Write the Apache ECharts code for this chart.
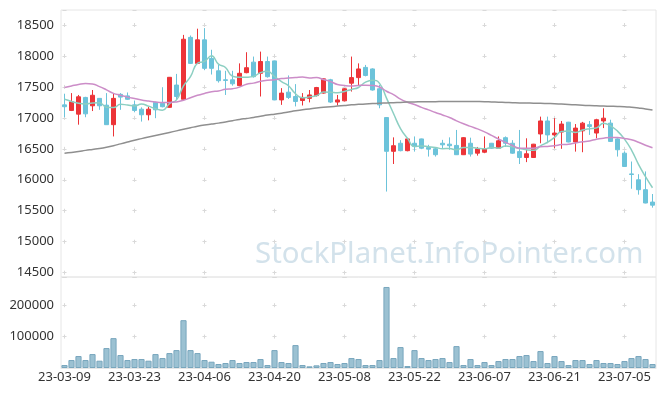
<!DOCTYPE html>
<html><head><meta charset="utf-8">
<script src="https://cdn.jsdelivr.net/npm/echarts@6/dist/echarts.min.js"></script>
<style>html,body{margin:0;padding:0;background:#fff}#c{width:665px;height:396px}</style>
</head><body><div id="c"></div>
<script>
const dates = ['23-03-09','23-03-10','23-03-13','23-03-14','23-03-15','23-03-16','23-03-17','23-03-20','23-03-21','23-03-22',
'23-03-23','23-03-24','23-03-27','23-03-28','23-03-29','23-03-30','23-03-31','23-04-03','23-04-04','23-04-05',
'23-04-06','23-04-07','23-04-10','23-04-11','23-04-12','23-04-13','23-04-14','23-04-17','23-04-18','23-04-19',
'23-04-20','23-04-21','23-04-24','23-04-25','23-04-26','23-04-27','23-04-28','23-05-02','23-05-03','23-05-04',
'23-05-08','23-05-09','23-05-10','23-05-11','23-05-12','23-05-15','23-05-16','23-05-17','23-05-18','23-05-19',
'23-05-22','23-05-23','23-05-24','23-05-25','23-05-26','23-05-30','23-05-31','23-06-01','23-06-02','23-06-05',
'23-06-07','23-06-08','23-06-09','23-06-12','23-06-13','23-06-14','23-06-15','23-06-16','23-06-19','23-06-20',
'23-06-21','23-06-22','23-06-23','23-06-26','23-06-27','23-06-28','23-06-29','23-06-30','23-07-03','23-07-04',
'23-07-05','23-07-06','23-07-07','23-07-10','23-07-11'];
const openP = [17210,17120,17060,17330,17195,17315,17205,16890,17380,17355,
17210,17140,17050,17250,17235,17170,17530,17300,18300,17880,
18260,17960,17760,17615,17615,17520,17730,17900,17720,17910,
17920,17290,17415,17345,17280,17315,17360,17400,17615,17255,
17275,17560,17650,17815,17790,17470,17005,16460,16590,16470,
16590,16660,16520,16500,16590,16575,16555,16405,16590,16430,
16445,16590,16510,16680,16590,16455,16360,16360,16740,16950,
16725,16770,16930,16610,16790,16890,16755,16950,16915,16660,
16430,16095,16000,15840,15640];
const closeP = [17180,17260,17340,17065,17365,17195,16890,17315,17335,17300,
17120,17050,17140,17130,17180,17655,17345,18270,17880,18260,
17800,17800,17600,17605,17550,17720,17810,17665,17910,17665,
17290,17400,17330,17265,17330,17370,17490,17630,17255,17290,
17470,17650,17790,17685,17450,17210,16460,16550,16470,16660,
16540,16510,16495,16405,16565,16550,16405,16680,16415,16500,
16500,16510,16630,16590,16430,16360,16420,16575,16950,16725,
16755,16900,16610,16835,16915,16860,16970,16995,16620,16485,
16215,16085,15840,15625,15590];
const lowP = [17010,17110,16890,17010,17110,17130,16890,16700,17130,17290,
17090,16940,16960,16995,17170,17160,17300,17290,17870,17880,
17770,17700,17570,17370,17520,17510,17720,17650,17345,17650,
17285,17210,17305,17185,17200,17250,17345,17390,17240,17200,
17265,17425,17530,17670,17440,17155,15810,16255,16460,16460,
16455,16495,16375,16375,16510,16485,16400,16400,16375,16390,
16430,16500,16500,16530,16420,16255,16285,16355,16590,16590,
16510,16500,16605,16455,16445,16725,16670,16835,16610,16375,
16210,15855,15760,15620,15550];
const highP = [17390,17400,17370,17340,17450,17320,17400,17390,17400,17410,
17280,17170,17180,17260,17495,17660,17710,18340,18330,18440,
18450,18100,17860,17760,17760,17880,18060,17990,18070,17990,
17925,17480,17685,17545,17400,17450,17500,17640,17630,17370,
17480,17990,17880,17855,17800,17530,17010,16685,16640,16670,
16700,16665,16565,16520,16645,16685,16805,16690,16680,16530,
16700,16595,16700,16700,16640,16805,16670,16580,17020,17020,
16995,16950,16935,16900,16935,16950,16985,17155,16970,16670,
16460,16295,16090,16135,15770];
const volumes = [9500,25400,38100,25400,44400,23300,63500,95200,41300,25400,
28600,28600,23300,44400,31700,47600,57100,152400,57100,47600,
25400,20100,12700,15900,25400,15900,19000,19000,28600,9500,
57100,19000,15900,73000,9500,5300,8500,15900,19000,12700,
15900,31700,28600,9500,9500,25400,258200,31700,66700,6300,
57100,31700,25400,28600,31700,19000,69800,9500,28600,9500,
19000,9500,22200,28600,28600,38100,41300,22200,54000,15900,
38100,22200,9500,25400,25400,12700,25400,15900,15900,12700,
22200,31700,38100,28600,12700];
const ma5 = [17300,17265,17235,17225,17242,17245,17171,17166,17220,17207,
17192,17224,17189,17148,17124,17231,17290,17516,17666,17882,
17911,18002,17868,17813,17671,17655,17657,17670,17731,17754,
17668,17586,17519,17390,17323,17339,17357,17417,17415,17407,
17427,17459,17491,17577,17609,17557,17319,17071,16828,16670,
16536,16546,16535,16522,16503,16505,16484,16521,16523,16510,
16500,16521,16511,16546,16532,16504,16486,16475,16547,16606,
16685,16781,16788,16765,16803,16824,16838,16915,16872,16786,
16657,16480,16249,16050,15871];
const ma20 = [17489,17515,17540,17555,17548,17505,17452,17395,17365,17335,
17312,17290,17272,17255,17247,17247,17258,17285,17325,17364,
17395,17422,17435,17462,17471,17497,17543,17561,17590,17608,
17616,17634,17643,17650,17658,17643,17651,17619,17587,17539,
17522,17515,17524,17528,17523,17498,17430,17375,17303,17252,
17215,17170,17129,17086,17047,17006,16952,16904,16862,16823,
16774,16717,16659,16605,16554,16511,16509,16510,16534,16538,
16548,16568,16574,16595,16613,16628,16656,16672,16682,16682,
16667,16646,16607,16558,16516];
const ma60 = [16430,16440,16455,16475,16490,16505,16525,16550,16580,16610,
16640,16665,16690,16715,16740,16765,16790,16815,16840,16865,
16885,16900,16915,16935,16955,16975,16990,17005,17025,17045,
17060,17075,17095,17115,17130,17145,17160,17170,17180,17190,
17200,17210,17218,17225,17230,17237,17240,17245,17250,17255,
17258,17260,17261,17262,17263,17264,17265,17265,17265,17264,
17262,17258,17254,17250,17246,17242,17240,17238,17236,17232,
17228,17222,17216,17210,17204,17198,17194,17191,17188,17185,
17180,17170,17158,17145,17128];
const watermark = 'StockPlanet.InfoPointer.com';

const candles = dates.map((d, i) => [openP[i], closeP[i], lowP[i], highP[i]]);
const UP = '#ec3438', DOWN = '#6cc3da';
const gridColor = '#e6e6e6', crossColor = '#d9d9d9';
const font = 'Noto Sans';
const plain = v => String(v);

const chart = echarts.init(document.getElementById('c'), null, {renderer: 'canvas'});
chart.setOption({
  animation: false,
  backgroundColor: '#fff',
  graphic: [{
    type: 'text', left: 255, top: 240, z: -10, silent: true,
    style: {text: watermark, font: '29.4px "Noto Sans"', fill: '#d3e2eb'}
  }],
  grid: [
    {left: 61, right: 9, top: 10, height: 267, show: true, borderColor: gridColor, borderWidth: 1},
    {left: 61, right: 9, top: 277, height: 91, show: true, borderColor: gridColor, borderWidth: 1}
  ],
  xAxis: [
    {type: 'category', gridIndex: 0, data: dates, boundaryGap: true,
     axisLine: {show: false}, axisTick: {show: false}, axisLabel: {show: false},
     splitLine: {show: true, interval: 9, alignWithLabel: true,
       lineStyle: {color: crossColor, width: 1, type: [4, 26.96], dashOffset: 17.96}}},
    {type: 'category', gridIndex: 1, data: dates, boundaryGap: true,
     axisLine: {show: true, lineStyle: {color: gridColor}}, axisTick: {show: false},
     axisLabel: {show: true, interval: 9, color: '#333', fontSize: 13, fontFamily: font, margin: 3},
     splitLine: {show: true, interval: 9, alignWithLabel: true,
       lineStyle: {color: crossColor, width: 1, type: [4, 27.38], dashOffset: 5.18}}}
  ],
  yAxis: [
    {type: 'value', gridIndex: 0, min: 14430, max: 18742, splitNumber: 8, scale: true,
     axisLine: {show: false}, axisTick: {show: false},
     axisLabel: {color: '#333', fontSize: 13, fontFamily: font, margin: 7, showMinLabel: false, showMaxLabel: false, formatter: plain},
     splitLine: {show: true, lineStyle: {color: crossColor, width: 1, type: [4, 66], dashOffset: 68.5}}},
    {type: 'value', gridIndex: 1, min: 0, max: 290000, interval: 100000,
     axisLine: {show: false}, axisTick: {show: false},
     axisLabel: {color: '#333', fontSize: 13, fontFamily: font, margin: 7, showMinLabel: false, showMaxLabel: false, formatter: plain},
     splitLine: {show: true, lineStyle: {color: crossColor, width: 1, type: [4, 66], dashOffset: 68.5}}}
  ],
  series: [
    {type: 'candlestick', xAxisIndex: 0, yAxisIndex: 0, data: candles, barWidth: '64%',
     itemStyle: {color: UP, color0: DOWN, borderColor: UP, borderColor0: DOWN, borderWidth: 1}},
    {type: 'line', name: 'MA5', xAxisIndex: 0, yAxisIndex: 0, data: ma5, smooth: true, showSymbol: false,
     lineStyle: {color: '#8ccfc2', width: 1.5}},
    {type: 'line', name: 'MA20', xAxisIndex: 0, yAxisIndex: 0, data: ma20, smooth: true, showSymbol: false,
     lineStyle: {color: '#cc8dc8', width: 1.5}},
    {type: 'line', name: 'MA60', xAxisIndex: 0, yAxisIndex: 0, data: ma60, smooth: true, showSymbol: false,
     lineStyle: {color: '#8f8f8f', width: 1.5}},
    {type: 'bar', xAxisIndex: 1, yAxisIndex: 1, data: volumes, barCategoryGap: '12%',
     itemStyle: {color: '#9bc1d2', borderColor: '#78a6bd', borderWidth: 1}}
  ]
});
</script></body></html>
